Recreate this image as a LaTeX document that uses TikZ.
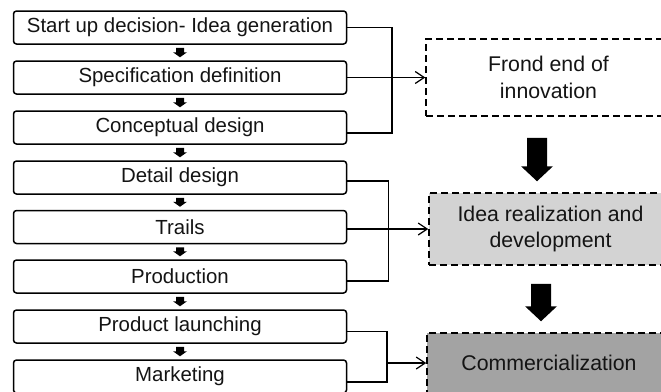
\documentclass[tikz,border=0pt]{standalone}
\usepackage{fontspec}
\setmainfont{Liberation Sans}
\usetikzlibrary{arrows.meta,calc}
\definecolor{lgray}{RGB}{211,211,211}
\definecolor{dgray}{RGB}{163,163,163}
\definecolor{ink}{RGB}{20,20,20}
\newcommand\smallarrow[2]{%
  \fill ($(#1.south)+(-4,3)$) -- ($(#1.south)+(4,3)$) -- ($(#2.north)+(4,-8)$) -- ($(#2.north)+(7,-8)$) -- ($(#2.north)+(0,-3)$) -- ($(#2.north)+(-7,-8)$) -- ($(#2.north)+(-4,-8)$) -- cycle;}
\newcommand\bigarrow[4]{%
  \fill ($(#3 |- #1.south)+(-10,#4)$) -- ($(#3 |- #1.south)+(10,#4)$) -- ($(#3 |- #2.north)+(10,-26)$) -- ($(#3 |- #2.north)+(16,-26)$) -- ($(#3 |- #2.north)+(0,-11)$) -- ($(#3 |- #2.north)+(-16,-26)$) -- ($(#3 |- #2.north)+(-10,-26)$) -- cycle;}
\begin{document}
\begin{tikzpicture}[x=1pt,y=-1pt,
  stepbox/.style={draw,rounded corners=3pt,line width=1.5pt,minimum width=333pt,minimum height=33pt,inner sep=0pt,text=ink,font=\fontsize{20.4}{24}\selectfont},
  phasebox/.style={draw,dash pattern=on 7pt off 4pt,line width=1.5pt,inner sep=0pt,align=center,text=ink,font=\fontsize{21.3}{26.5}\selectfont},
  link/.style={line width=1.2pt},
  into/.style={line width=1.2pt,-{Straight Barb[length=9pt,width=12pt]}}]
\clip (0,0) rectangle (661,391);
\fill[white] (0,0) rectangle (661,391);
% left step boxes
\node[stepbox] (b1) at (180,27.5) {Start up decision- Idea generation};
\node[stepbox] (b2) at (180,77.5) {Specification definition};
\node[stepbox] (b3) at (180,127.5) {Conceptual design};
\node[stepbox] (b4) at (180,177.5) {Detail design};
\node[stepbox] (b5) at (180,227) {Trails};
\node[stepbox] (b6) at (180,276.5) {Production};
\node[stepbox] (b7) at (180,326.5) {Product launching};
\node[stepbox] (b8) at (180,376.5) {Marketing};
% right phase boxes
\node[phasebox,fill=white,minimum width=245pt,minimum height=77pt] (A) at (548.5,77.5) {Frond end of\\innovation};
\node[phasebox,fill=lgray,minimum width=243pt,minimum height=72pt] (B) at (550.5,229) {Idea realization and\\development};
\node[phasebox,fill=dgray,minimum width=244pt,minimum height=60pt] (C) at (549,363) {Commercialization};
% small arrows
\smallarrow{b1}{b2}
\smallarrow{b2}{b3}
\smallarrow{b3}{b4}
\smallarrow{b4}{b5}
\smallarrow{b5}{b6}
\smallarrow{b6}{b7}
\smallarrow{b7}{b8}
% big arrows
\coordinate (ax1) at (537,0);
\coordinate (ax2) at (541,0);
\bigarrow{A}{B}{ax1}{21}
\bigarrow{B}{C}{ax2}{18}
% connectors
\coordinate (v1) at (392,0);
\coordinate (v2) at (388.5,0);
\coordinate (v3) at (387,0);
\coordinate (e3) at ($(b3.east)+(0,5.5)$);
\coordinate (e4) at ($(b4.east)+(0,3.5)$);
\coordinate (e5) at ($(b5.east)+(0,2)$);
\coordinate (e6) at ($(b6.east)+(0,4.5)$);
\coordinate (e7) at ($(b7.east)+(0,5)$);
\coordinate (e8) at ($(b8.east)+(0,5.5)$);
\draw[link] (b1.east) -- (v1 |- b1.east) -- (v1 |- e3) -- (e3);
\draw[into] (b2.east) -- (A.west);
\draw[link] (e4) -- (v2 |- e4) -- (v2 |- e6) -- (e6);
\draw[into] (e5) -- (B.west);
\draw[link] (e7) -- (v3 |- e7) -- (v3 |- e8) -- (e8);
\draw[into] (v3 |- C.west) -- (C.west);
\end{tikzpicture}
\end{document}
